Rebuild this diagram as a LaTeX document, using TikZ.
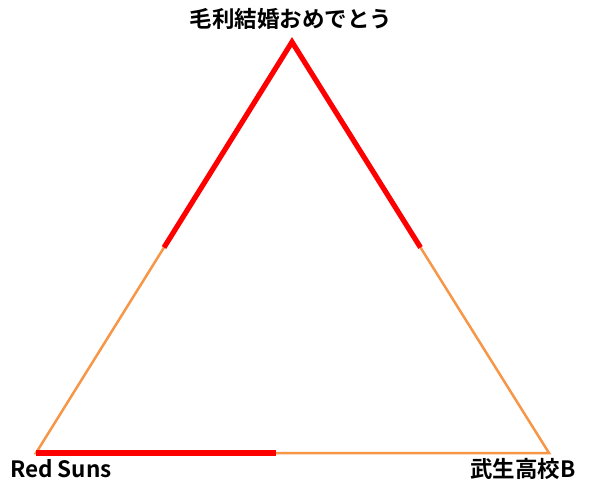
\documentclass[tikz,border=0pt]{standalone}
\usepackage{fontspec}
\setmainfont{Noto Sans CJK JP}[BoldFont={* Bold}]
\usetikzlibrary{calc,positioning}
\definecolor{edgeorange}{HTML}{F79646}
\tikzset{
  side/.style={draw=edgeorange, line width=2.5pt},
  hot/.style={draw=red, line width=5.2pt},
  team/.style={font=\bfseries\fontsize{22.5}{22.5}\selectfont, inner sep=0pt}
}
\begin{document}
\begin{tikzpicture}[x=1pt,y=-1pt]
        \useasboundingbox (0,0) rectangle (590,484);
        % corners of the triangle
        \coordinate (top) at (292,42);
        \coordinate (left) at (36,453);
        \coordinate (right) at (549,453);
        \draw[side] (top) -- (left) -- (right) -- cycle;
        % red half edges
        \draw[hot] ($(top)!0.5!(left)$) -- (top) -- ($(top)!0.5!(right)$);
        \draw[hot] (left) -- ($(left)!0.468!(right)$);
        % names
        \node[team] (mouri) at (291,19) {毛利結婚おめでとう};
        \node[team] (redsuns) at (61,469) {Red Suns};
        \node[team] (takefu) at (523,469) {武生高校B};
    \end{tikzpicture}
\end{document}
